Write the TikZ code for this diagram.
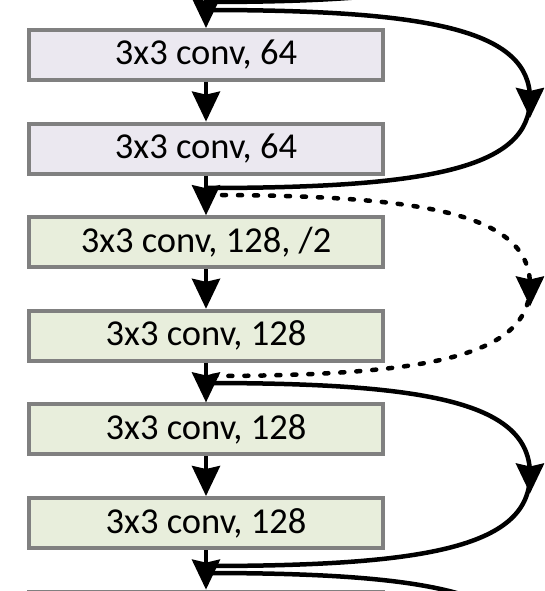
\documentclass[tikz,border=0pt]{standalone}
\usepackage{fontspec}
\setmainfont{Carlito}
\usetikzlibrary{arrows.meta}

\definecolor{boxgray}{RGB}{128,128,128}
\definecolor{convlav}{RGB}{235,232,240}
\definecolor{convgreen}{RGB}{232,238,220}

\tikzset{
	conv/.style={draw=boxgray, line width=4pt, minimum width=354pt, minimum height=50pt, inner sep=0pt, font=\fontsize{36.5}{40}\selectfont},
	flow/.style={line width=4pt, -{Stealth[length=30pt, width=28pt, inset=3pt]}},
	shortcut/.style={line width=4.5pt},
	shortcuttip/.style={line width=4.5pt, -{Stealth[length=30pt, width=28pt, inset=3pt]}},
	dots/.style={dash pattern=on 4pt off 12pt, line cap=round}
}

\begin{document}
\begin{tikzpicture}[x=1pt, y=-1pt]
				\useasboundingbox (0, 0) rectangle (544, 591);
				\clip (0, 0) rectangle (544, 591);
				
				\node[conv, fill=convlav] (c1) at (206, 55) {3x3 conv, 64};
				\node[conv, fill=convlav] (c2) at (206, 148.6) {3x3 conv, 64};
				\node[conv, fill=convgreen] (c3) at (206, 242.2) {3x3 conv, 128, /2};
				\node[conv, fill=convgreen] (c4) at (206, 335.8) {3x3 conv, 128};
				\node[conv, fill=convgreen] (c5) at (206, 429.4) {3x3 conv, 128};
				\node[conv, fill=convgreen] (c6) at (206, 523) {3x3 conv, 128};
				\node[conv, fill=convgreen] (c7) at (206, 616.6) {};
				
				% junctions on the main line
				\coordinate (top) at (206, -5);
				\coordinate (j0in) at (206, 2);
				\coordinate (j0out) at (206, 10);
				\coordinate (j1in) at (206, 188);
				\coordinate (j1out) at (206, 195);
				\coordinate (j2in) at (206, 376);
				\coordinate (j2out) at (206, 383);
				\coordinate (j3in) at (206, 566);
				\coordinate (j3out) at (206, 573);
				
				% turning points of the shortcuts
				\coordinate (m1) at (530, 99);
				\coordinate (m2) at (530, 285.5);
				\coordinate (m3) at (530, 474.5);
				
				% shortcuts
				\draw[shortcut] (530, -88) .. controls (530, -18) and (430, 2) .. (j0in);
				
				\draw[shortcuttip] (j0out) .. controls (430, 10) and (530, 30) .. (m1) -- ++(0, 19);
				\draw[shortcut] (m1) .. controls (530, 168) and (430, 188) .. (j1in);
				
				\draw[shortcuttip, dots] (j1out) .. controls (430, 195) and (530, 215) .. (m2) -- ++(0, 21);
				\draw[shortcut, dots] (m2) .. controls (530, 356) and (430, 376) .. (j2in);
				
				\draw[shortcuttip] (j2out) .. controls (430, 383) and (530, 403) .. (m3) -- ++(0, 19);
				\draw[shortcut] (m3) .. controls (530, 546) and (430, 566) .. (j3in);
				
				\draw[shortcut] (j3out) .. controls (430, 573) and (530, 593) .. (530, 663);
				
				% main line
				\draw[flow] (top) -- (c1);
				\draw[flow] (c1) -- (c2);
				\draw[flow] (c2) -- (c3);
				\draw[flow] (c3) -- (c4);
				\draw[flow] (c4) -- (c5);
				\draw[flow] (c5) -- (c6);
				\draw[flow] (c6) -- (c7);
			\end{tikzpicture}
\end{document}
